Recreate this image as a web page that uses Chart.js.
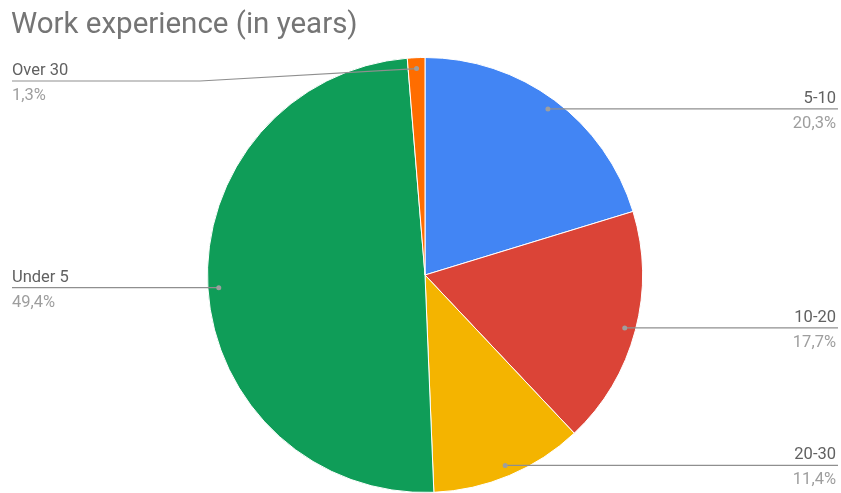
<!DOCTYPE html>
<html>
<head>
<meta charset="utf-8">
<script src="https://cdn.jsdelivr.net/npm/chart.js@4/dist/chart.umd.min.js"></script>
<style>
  html, body { margin: 0; padding: 0; background: #fff; }
  #wrap { width: 841px; height: 493px; }
</style>
</head>
<body>
<div id="wrap"><canvas id="chart" width="841" height="493"></canvas></div>
<script>
const title = "Work experience (in years)";
const categories = ["5-10", "10-20", "20-30", "Under 5", "Over 30"];
const shares = [20.3, 17.7, 11.4, 49.4, 1.3];
const colors = ["#4285F4", "#DB4437", "#F4B400", "#0F9D58", "#FF6D00"];

// Draws the title and the leader-line labels the way the original does.
const calloutPlugin = {
  id: "callouts",
  afterDraw(chart) {
    const ctx = chart.ctx;
    ctx.save();

    ctx.fillStyle = "#757575";
    ctx.font = "29.5px Roboto";
    ctx.textBaseline = "alphabetic";
    ctx.textAlign = "left";
    ctx.fillText(title, 11, 33);

    const arcs = chart.getDatasetMeta(0).data;
    arcs.forEach((arc, i) => {
      const p = arc.getProps(["x", "y", "startAngle", "endAngle", "outerRadius"], true);
      const mid = (p.startAngle + p.endAngle) / 2;
      const r = p.outerRadius * 0.95;
      const dx = p.x + Math.cos(mid) * r;
      const dy = p.y + Math.sin(mid) * r;
      const right = Math.cos(mid) >= 0;
      const ly = Math.max(dy, 81);

      ctx.strokeStyle = "#8f8f8f";
      ctx.lineWidth = 1.2;
      ctx.beginPath();
      ctx.moveTo(dx, dy);
      if (right) {
        ctx.lineTo(838, ly);
      } else {
        if (ly !== dy) {
          ctx.lineTo(200, ly);
        }
        ctx.lineTo(12, ly);
      }
      ctx.stroke();

      ctx.fillStyle = "#9e9e9e";
      ctx.beginPath();
      ctx.arc(dx, dy, 2.5, 0, Math.PI * 2);
      ctx.fill();

      ctx.font = "16.5px Roboto";
      ctx.textAlign = right ? "right" : "left";
      const tx = right ? 836 : 12;
      ctx.fillStyle = "#616161";
      ctx.fillText(categories[i], tx, ly - 6);
      ctx.fillStyle = "#9e9e9e";
      ctx.fillText(shares[i].toFixed(1).replace(".", ",") + "%", tx, ly + 19);
    });

    ctx.restore();
  },
};

new Chart(document.getElementById("chart"), {
  type: "pie",
  data: {
    labels: categories,
    datasets: [
      {
        data: shares,
        backgroundColor: colors,
        borderColor: "#ffffff",
        borderWidth: 1,
      },
    ],
  },
  options: {
    responsive: false,
    animation: false,
    events: [],
    layout: {
      padding: { top: 57, bottom: 0, left: 207, right: 198 },
    },
    plugins: {
      legend: { display: false },
      tooltip: { enabled: false },
      title: { display: false },
    },
  },
  plugins: [calloutPlugin],
});
</script>
</body>
</html>
